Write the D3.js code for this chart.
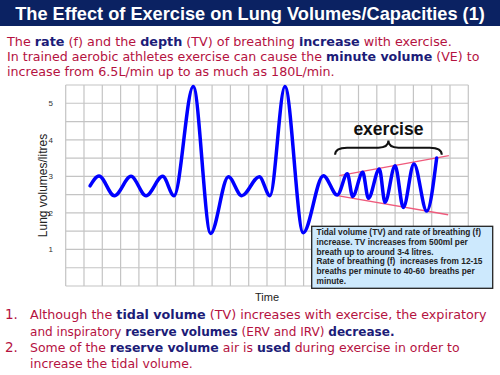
<!DOCTYPE html>
<html>
<head>
<meta charset="utf-8">
<script src="https://cdn.jsdelivr.net/npm/d3@7"></script>
<style>
  body { margin: 0; background: #fff; }
  svg { display: block; }
</style>
</head>
<body>
<div id="root"></div>
<script>
// data (time in grid squares, volume in litres)
const yTicks = [1, 2, 3, 4, 5];
const breathTime = [1.33, 1.82, 2.66, 3.57, 4.39, 5.30, 5.92, 6.97, 7.92, 8.89, 9.62, 10.58, 11.16,
  11.98, 12.98, 14.08, 14.84, 15.39, 15.68, 16.23, 16.54, 17.14, 17.45, 18.0, 18.45, 19.03, 19.73, 20.27];
const breathVolume = [2.74, 3.01, 2.47, 3.0, 2.47, 3.0, 2.47, 5.46, 1.44, 2.99, 2.47, 2.99, 2.47,
  5.46, 1.46, 3.02, 2.49, 3.07, 2.45, 3.11, 2.40, 3.20, 2.29, 3.29, 2.15, 3.34, 2.05, 3.50];
const upperEnvelope = [[14.95, 3.02], [20.94, 3.57]];
const lowerEnvelope = [[14.84, 2.47], [20.9, 1.95]];
const braceSpan = [14.72, 20.55];
const braceLevels = [3.59, 3.98];

const titleText = "The Effect of Exercise on Lung Volumes/Capacities (1)";
const introLines = [
  [["The ", 0], ["rate", 1], [" (f) and the ", 0], ["depth", 1], [" (TV) of breathing ", 0], ["increase", 1], [" with exercise.", 0]],
  [["In trained aerobic athletes exercise can cause the ", 0], ["minute volume", 1], [" (VE) to", 0]],
  [["increase from 6.5L/min up to as much as 180L/min.", 0]]
];
const pointLines = [
  [["Although the ", 0], ["tidal volume", 1], [" (TV) increases with exercise, the expiratory", 0]],
  [["and inspiratory ", 0], ["reserve volumes", 1], [" (ERV and IRV) ", 0], ["decrease.", 1]],
  [["Some of the ", 0], ["reserve volume", 1], [" air is ", 0], ["used", 1], [" during exercise in order to", 0]],
  [["increase the tidal volume.", 0]]
];
const boxLines = [
  "Tidal volume (TV) and rate of breathing (f)",
  "increase. TV increases from 500ml per",
  "breath up to around 3-4 litres.",
  "Rate of breathing (f)  increases from 12-15",
  "breaths per minute to 40-60  breaths per",
  "minute."
];

const W = 500, H = 375;
const red = "#b5123f", navy = "#1c1c78";
const bodyFont = "'Comic Sans MS', 'DejaVu Sans', sans-serif";

const svg = d3.select("#root").append("svg").attr("width", W).attr("height", H);

// title bar
svg.append("rect").attr("width", W).attr("height", 26).attr("fill", "#0b2262");
let title = svg.append("text")
  .attr("x", 250).attr("y", 20)
  .attr("text-anchor", "middle")
  .attr("fill", "#fff")
  .attr("font-family", "'Liberation Sans', Arial, sans-serif")
  .attr("font-weight", "bold")
  .attr("font-size", 20)
  .text(titleText);
title.attr("font-size", 20 * 470 / title.node().getComputedTextLength());

// text lines with coloured words, sized to match the original line widths
let richLine = (x, y, parts, width) => {
  let t = svg.append("text")
    .attr("x", x).attr("y", y)
    .attr("font-family", bodyFont)
    .attr("font-size", 14);
  parts.forEach(p => {
    t.append("tspan")
      .attr("fill", p[1] ? navy : red)
      .attr("font-weight", p[1] ? "bold" : "normal")
      .text(p[0]);
  });
  t.attr("font-size", 14 * width / t.node().getComputedTextLength());
  return t;
};

richLine(7, 46, introLines[0], 445);
richLine(7, 61, introLines[1], 473);
richLine(7, 76, introLines[2], 328);

// chart
const x = d3.scaleLinear().domain([0, 22]).range([65.7, 468.3]);
const y = d3.scaleLinear().domain([0, 5.5]).range([286, 85]);

let grid = svg.append("g").attr("stroke", "#c4c4c4").attr("stroke-width", 1.2);
grid.selectAll("line.v").data(d3.range(0, 23)).join("line")
  .attr("class", "v")
  .attr("x1", d => x(d)).attr("x2", d => x(d))
  .attr("y1", y(0)).attr("y2", y(5.5));
grid.selectAll("line.h").data(d3.range(0, 12).map(d => d / 2)).join("line")
  .attr("class", "h")
  .attr("x1", x(0)).attr("x2", x(22))
  .attr("y1", d => y(d)).attr("y2", d => y(d));

svg.append("g").selectAll("text").data(yTicks).join("text")
  .attr("x", 53).attr("y", d => y(d) + 3)
  .attr("text-anchor", "end")
  .attr("font-family", "'Liberation Sans', Arial, sans-serif")
  .attr("font-size", 8)
  .attr("fill", "#333")
  .text(d => d);

svg.append("text")
  .attr("transform", `translate(47,${y(2.75)}) rotate(-90)`)
  .attr("text-anchor", "middle")
  .attr("font-family", "'Liberation Sans', Arial, sans-serif")
  .attr("font-size", 12)
  .attr("fill", "#222")
  .text("Lung volumes/litres");

svg.append("text")
  .attr("x", 267).attr("y", 301)
  .attr("text-anchor", "middle")
  .attr("font-family", "'Liberation Sans', Arial, sans-serif")
  .attr("font-size", 11)
  .attr("fill", "#222")
  .text("Time");

// envelope lines
let envLine = d3.line().x(d => x(d[0])).y(d => y(d[1]));
svg.append("g").selectAll("path").data([upperEnvelope, lowerEnvelope]).join("path")
  .attr("d", envLine)
  .attr("fill", "none")
  .attr("stroke", "#ef5a7c")
  .attr("stroke-width", 1.3);

// breathing trace
let trace = d3.line()
  .curve(d3.curveMonotoneX)
  .x((d, i) => x(breathTime[i]))
  .y(d => y(d));
svg.append("path")
  .attr("d", trace(breathVolume))
  .attr("fill", "none")
  .attr("stroke", "#0000ff")
  .attr("stroke-width", 3.5)
  .attr("stroke-linecap", "round")
  .attr("stroke-linejoin", "round");

// brace over the exercise part
let bx0 = x(braceSpan[0]), bx1 = x(braceSpan[1]), bm = (bx0 + bx1) / 2;
let by0 = y(braceLevels[0]), by1 = y(braceLevels[1]), bmid = (by0 + by1) / 2;
svg.append("path")
  .attr("d", `M${bx0},${by0} Q${bx0},${bmid} ${bx0 + 12},${bmid} L${bm - 10},${bmid} Q${bm},${bmid} ${bm},${by1}` +
    ` Q${bm},${bmid} ${bm + 10},${bmid} L${bx1 - 12},${bmid} Q${bx1},${bmid} ${bx1},${by0}`)
  .attr("fill", "none")
  .attr("stroke", "#111")
  .attr("stroke-width", 2);
svg.append("text")
  .attr("x", bm).attr("y", 134.5)
  .attr("text-anchor", "middle")
  .attr("font-family", "'Liberation Sans', Arial, sans-serif")
  .attr("font-weight", "bold")
  .attr("font-size", 17.5)
  .attr("fill", "#111")
  .text("exercise");

// info box
let box = svg.append("g");
box.append("rect")
  .attr("x", 311.7).attr("y", 226.3).attr("width", 181).attr("height", 62)
  .attr("fill", "#cde9fd")
  .attr("stroke", "#222")
  .attr("stroke-width", 1.3);
box.selectAll("text").data(boxLines).join("text")
  .attr("x", 316.5).attr("y", (d, i) => 235.3 + i * 9.7)
  .attr("font-family", "'Liberation Sans', Arial, sans-serif")
  .attr("font-weight", "bold")
  .attr("font-size", 8.3)
  .attr("fill", "#222")
  .attr("xml:space", "preserve")
  .style("white-space", "pre")
  .text(d => d);

// numbered points
[["1.", 319], ["2.", 352]].forEach(n => {
  svg.append("text")
    .attr("x", 5).attr("y", n[1])
    .attr("font-family", bodyFont)
    .attr("font-size", 13.5)
    .attr("fill", red)
    .text(n[0]);
});
richLine(30, 319, pointLines[0], 457);
richLine(30, 336, pointLines[1], 365);
richLine(30, 352, pointLines[2], 430);
richLine(30, 368, pointLines[3], 163);
</script>
</body>
</html>
